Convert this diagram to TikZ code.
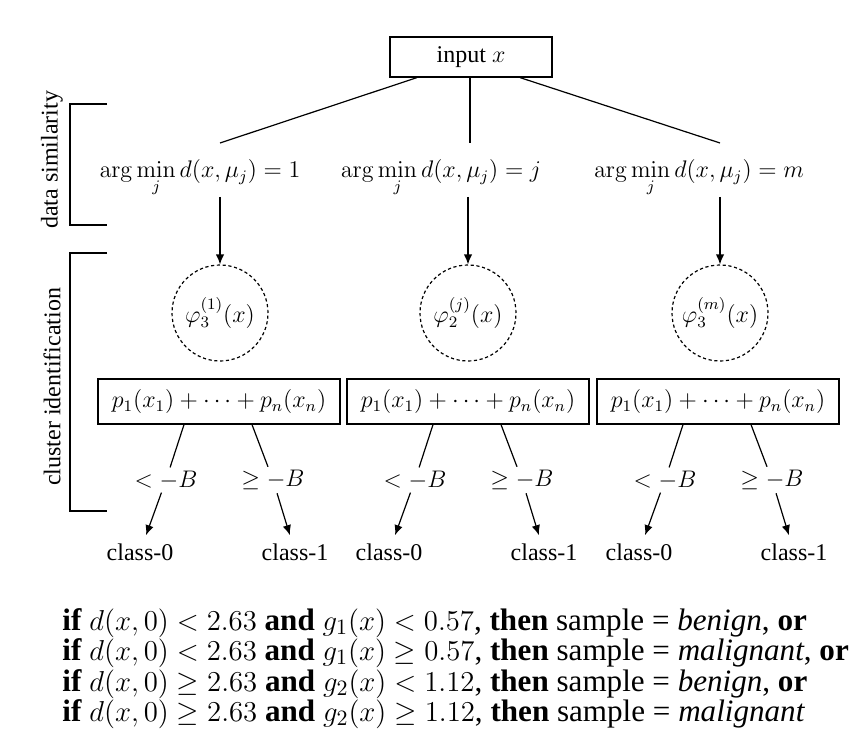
\documentclass[tikz,border=0pt]{standalone}
\usepackage[no-math]{fontspec}
\setmainfont{Liberation Serif}
\usetikzlibrary{arrows.meta}
\tikzset{
  base/.style={font=\fontsize{12}{14.4}\selectfont},
  rbox/.style={draw, line width=0.6pt, inner sep=0pt},
  phinode/.style={circle, draw, dash pattern=on 1.6pt off 1.3pt, line width=0.6pt, minimum size=48pt, inner sep=0pt},
  lbl/.style={inner sep=1.5pt},
  cls/.style={inner sep=4pt},
  conn/.style={line width=0.6pt},
  arr/.style={line width=0.6pt, -{Latex[length=5pt,width=4.2pt]}},
  brack/.style={line width=0.6pt},
  rule/.style={anchor=base west, inner sep=0pt, font=\fontsize{15.55}{17}\selectfont},
}
\begin{document}
\begin{tikzpicture}[x=0.5pt,y=-0.5pt,base]
\useasboundingbox (0,0) rectangle (854,732);
% input
\node[rbox, minimum width=81pt, minimum height=20pt] (input) at (471,57) {input $x$};
% argmin nodes
\node[inner sep=0pt, anchor=base] (a1) at (200,178) {$\displaystyle\arg\min_j d(x,\mu_j)=1$};
\node[inner sep=0pt, anchor=base] (a2) at (441,178) {$\displaystyle\arg\min_j d(x,\mu_j)=j$};
\node[inner sep=0pt, anchor=base] (a3) at (699,178) {$\displaystyle\arg\min_j d(x,\mu_j)=m$};
\coordinate (t1) at (220,143);
\coordinate (t2) at (470,143);
\coordinate (t3) at (720,143);
\draw[conn] ([xshift=-27pt]input.south) -- (t1);
\draw[conn] ([xshift=-0.5pt]input.south) -- (t2);
\draw[conn] ([xshift=24.5pt]input.south) -- (t3);
% phi circles
\node[phinode] (phi1) at (220,313) {$\varphi_3^{(1)}(x)$};
\node[phinode] (phi2) at (468,313) {$\varphi_2^{(j)}(x)$};
\node[phinode] (phi3) at (720,313) {$\varphi_3^{(m)}(x)$};
\draw[arr] (phi1 |- 0,197) -- (phi1.north);
\draw[arr] (phi2 |- 0,197) -- (phi2.north);
\draw[arr] (phi3 |- 0,197) -- (phi3.north);
% sum boxes
\foreach \i/\cx in {1/219,2/468,3/718}{
  \node[rbox, minimum width=121pt, minimum height=22.5pt] (s\i) at (\cx,401.5) {$p_1(x_1)+\cdots+p_n(x_n)$};
  \node[lbl] (l\i) at (\cx-53,480) {$<-B$};
  \node[lbl] (r\i) at (\cx+54,480) {$\geq -B$};
  \node[cls] (c\i0) at (\cx-79,552) {class-0};
  \node[cls] (c\i1) at (\cx+76,552) {class-1};
  \draw[conn] ([xshift=-17.5pt]s\i.south) -- (l\i);
  \draw[conn] ([xshift=16.5pt]s\i.south) -- (r\i);
  \draw[arr] (l\i) -- (c\i0);
  \draw[arr] (r\i) -- (c\i1);
}
% brackets
\draw[brack] (107,104) -- (70,104) -- (70,225) -- (107,225);
\draw[brack] (107,253) -- (70,253) -- (70,511) -- (107,511);
\node[rotate=90] (ds) at (52,160) {data similarity};
\node[rotate=90] (ci) at (52,387) {cluster identification};
% rules
\node[rule] (rule1) at (62,630) {\textbf{if} $d(x,0)<2.63$ \textbf{and} $g_1(x)<0.57$, \textbf{then} sample = \textit{benign}, \textbf{or}};
\node[rule] (rule2) at (62,660.5) {\textbf{if} $d(x,0)<2.63$ \textbf{and} $g_1(x)\geq 0.57$, \textbf{then} sample = \textit{malignant}, \textbf{or}};
\node[rule] (rule3) at (62,691) {\textbf{if} $d(x,0)\geq 2.63$ \textbf{and} $g_2(x)<1.12$, \textbf{then} sample = \textit{benign}, \textbf{or}};
\node[rule] (rule4) at (62,721.5) {\textbf{if} $d(x,0)\geq 2.63$ \textbf{and} $g_2(x)\geq 1.12$, \textbf{then} sample = \textit{malignant}};
\end{tikzpicture}
\end{document}
